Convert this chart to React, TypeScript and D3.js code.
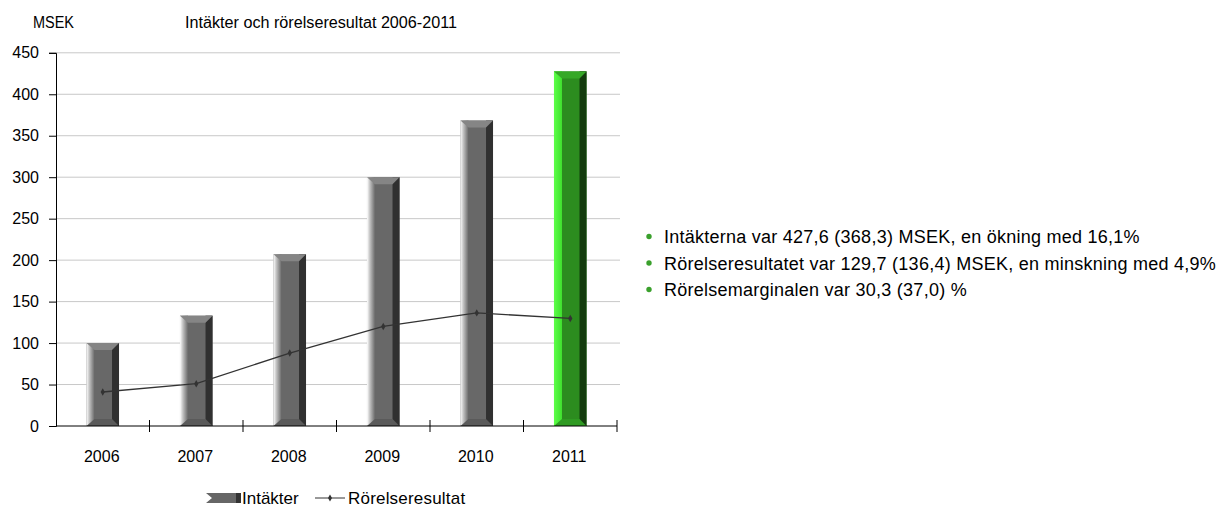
import React, { useEffect, useRef } from 'react'
import * as d3 from 'd3'

const years = ['2006', '2007', '2008', '2009', '2010', '2011']
const intakter = [100, 133, 207, 300, 368.3, 427.6]
const rorelseresultat = [41, 51, 88, 120, 136.4, 129.7]
const yTicks = [0, 50, 100, 150, 200, 250, 300, 350, 400, 450]
const bullets = [
  'Intäkterna var 427,6 (368,3) MSEK, en ökning med 16,1%',
  'Rörelseresultatet var 129,7 (136,4) MSEK, en minskning med 4,9%',
  'Rörelsemarginalen var 30,3 (37,0) %',
]

const FONT = 'Liberation Sans, Arial, sans-serif'

function App() {
  const svgRef = useRef<SVGSVGElement>(null)

  useEffect(() => {
    const width = 1217
    const height = 510
    const svg = d3.select(svgRef.current)
      .attr('width', width)
      .attr('height', height)
      .style('display', 'block')
      .style('position', 'absolute')
      .style('left', '0px')
      .style('top', '0px')
      .style('background', '#fff')
    svg.selectAll('*').remove()

    const x0 = 56, x1 = 617
    const xScale = d3.scaleBand().domain(years).range([x0, x1]).paddingInner(0.652).paddingOuter(0.326)
    const yScale = d3.scaleLinear().domain([0, 450]).range([426, 52.8])

    // gradients
    const defs = svg.append('defs')
    const mk = (id: string, stops: [number, string][]) => {
      const g = defs.append('linearGradient').attr('id', id).attr('x1', 0).attr('x2', 1).attr('y1', 0).attr('y2', 0)
      stops.forEach(([o, c]) => g.append('stop').attr('offset', o).attr('stop-color', c))
    }
    mk('grayLeft', [[0, '#ffffff'], [0.35, '#c4c4c4'], [1, '#6a6a6a']])
    mk('greenLeft', [[0, '#5cff48'], [1, '#40e02e']])

    // gridlines
    svg.append('g').selectAll('line').data(yTicks.slice(1)).join('line')
      .attr('x1', x0).attr('x2', 620)
      .attr('y1', d => yScale(d)).attr('y2', d => yScale(d))
      .attr('stroke', '#c8c8c8').attr('stroke-width', 1)

    // bars
    const bw = xScale.bandwidth()
    const side = 8
    const bev = 7
    const bars = svg.append('g').selectAll('g').data(intakter).join('g')
    bars.each(function (v, i) {
      const g = d3.select(this)
      const green = i === years.length - 1
      const xl = xScale(years[i])!
      const xr = xl + bw
      const yt = yScale(v)
      const yb = yScale(0)
      const mid = green ? '#2c8c1f' : '#686868'
      const dark = green ? '#143c0e' : '#303030'
      const topC = green ? '#36a827' : '#858585'
      const botC = green ? '#2f9a22' : '#5a5a5a'
      g.append('rect').attr('x', xl).attr('y', yt).attr('width', bw).attr('height', yb - yt).attr('fill', mid)
      g.append('rect').attr('x', xl).attr('y', yt).attr('width', side).attr('height', yb - yt)
        .attr('fill', green ? 'url(#greenLeft)' : 'url(#grayLeft)')
      g.append('rect').attr('x', xr - side + 1).attr('y', yt).attr('width', side - 1).attr('height', yb - yt).attr('fill', dark)
      g.append('path')
        .attr('d', `M${xl},${yt}L${xr},${yt}L${xr - side + 1},${yt + bev}L${xl + side},${yt + bev}Z`)
        .attr('fill', topC)
      g.append('path')
        .attr('d', `M${xl},${yb}L${xr},${yb}L${xr - side + 1},${yb - bev}L${xl + side},${yb - bev}Z`)
        .attr('fill', botC)
    })

    // axes
    const yAxis = d3.axisLeft(yScale).tickValues(yTicks).tickSize(7).tickPadding(10)
    const ya = svg.append('g').attr('transform', `translate(${x0},0)`).call(yAxis)
    ya.select('.domain').attr('stroke', '#000')
    ya.selectAll('line').attr('stroke', '#000')
    ya.selectAll('text').attr('font-family', FONT).attr('font-size', 16).attr('fill', '#000')

    const xAxis = d3.axisBottom(xScale).tickSize(0).tickPadding(25)
    const xa = svg.append('g').attr('transform', `translate(0,${yScale(0)})`).call(xAxis)
    xa.select('.domain').attr('stroke', '#000').attr('d', `M${x0},0H${x1}`)
    xa.selectAll('text').attr('font-family', FONT).attr('font-size', 16).attr('fill', '#000')
      .attr('dx', -1)
    svg.append('g').selectAll('line').data(years).join('line')
      .attr('x1', d => xScale(d)! + bw / 2 + xScale.step() / 2)
      .attr('x2', d => xScale(d)! + bw / 2 + xScale.step() / 2)
      .attr('y1', yScale(0) - 6).attr('y2', yScale(0) + 6)
      .attr('stroke', '#000')

    // line
    const line = d3.line<number>()
      .x((_, i) => xScale(years[i])! + bw / 2)
      .y(d => yScale(d))
    svg.append('path').datum(rorelseresultat).attr('d', line)
      .attr('fill', 'none').attr('stroke', '#333').attr('stroke-width', 1.3)
    svg.append('g').selectAll('path').data(rorelseresultat).join('path')
      .attr('transform', (d, i) => `translate(${xScale(years[i])! + bw / 2},${yScale(d)})`)
      .attr('d', d3.symbol(d3.symbolDiamond, 16)())
      .attr('fill', '#333')

    // titles
    svg.append('text').attr('x', 33).attr('y', 28).text('MSEK')
      .attr('font-family', FONT).attr('font-size', 16).attr('textLength', 41).attr('lengthAdjust', 'spacingAndGlyphs')
    svg.append('text').attr('x', 185).attr('y', 28).text('Intäkter och rörelseresultat 2006-2011')
      .attr('font-family', FONT).attr('font-size', 16).attr('textLength', 272).attr('lengthAdjust', 'spacingAndGlyphs')

    // bullets
    const bl = svg.append('g').selectAll('g').data(bullets).join('g')
      .attr('transform', (_, i) => `translate(649,${236.5 + i * 26.5})`)
    bl.append('circle').attr('r', 2.7).attr('fill', '#3aa02c')
    bl.append('text').attr('x', 15).attr('y', 6.5).text(d => d)
      .attr('font-family', FONT).attr('font-size', 18).attr('letter-spacing', 0.25)

    // legend
    const lg = svg.append('g').attr('transform', 'translate(0,498)')
    lg.append('path').attr('d', 'M206,-5L241,-5L241,5L206,5L212,0Z').attr('fill', '#666')
    lg.append('path').attr('d', 'M236,-5L241,-5L241,5L236,5Z').attr('fill', '#333')
    lg.append('text').attr('x', 242).attr('y', 0).attr('dy', '0.35em').text('Intäkter')
      .attr('font-family', FONT).attr('font-size', 17)
    lg.append('line').attr('x1', 315).attr('x2', 345).attr('y1', 0).attr('y2', 0).attr('stroke', '#333')
    lg.append('path').attr('transform', 'translate(330,0)').attr('d', d3.symbol(d3.symbolDiamond, 14)()).attr('fill', '#333')
    lg.append('text').attr('x', 348).attr('y', 0).attr('dy', '0.35em').text('Rörelseresultat')
      .attr('font-family', FONT).attr('font-size', 17).attr('letter-spacing', 0.2)
  }, [])

  return (
    <div className='App'>
      <svg ref={svgRef}></svg>
    </div>
  )
}

export default App
